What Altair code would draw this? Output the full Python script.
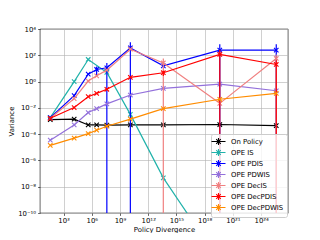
import altair as alt
import pandas as pd

# Policy divergence (x) values
x_vals = [39, 1.35e4, 4.2e5, 3.3e6, 4.0e7, 1.26e10, 4.0e13, 4.0e19, 4.0e25]

series_names = ["On Policy", "OPE IS", "OPE PDIS", "OPE PDWIS",
                "OPE DecIS", "OPE DecPDIS", "OPE DecPDWIS"]
colors = ["#000000", "#20b2aa", "#0000ff", "#9370db", "#f08080", "#ff0000", "#ff8c00"]

# Variance values (None = no point)
on_policy = [1.26e-3, 1.4e-3, 5.0e-4, 5.0e-4, 4.8e-4, 5.0e-4, 5.0e-4, 5.4e-4, 4.5e-4]
ope_is = [1.8e-3, 1.0, 48, None, 5.0, 3.2e-3, 4.7e-8, 2e-14, None]
ope_pdis = [1.8e-3, 8.5e-2, 3.7, 8.3, 11.2, 363, 15.8, 245, 250]
ope_pdwis = [3.5e-5, 5.0e-4, 4.4e-3, 8.7e-3, 2.0e-2, 9.5e-2, 0.30, 0.65, 0.20]
ope_decis = [1.6e-3, 5.0e-2, 1.1, 2.75, 7.4, 288, 26, 2.2e-2, 57]
ope_decpdis = [1.6e-3, 1.05e-2, 7.1e-2, 0.126, 0.26, 2.1, 4.7, 115, 20]
ope_decpdwis = [1.4e-5, 5.0e-5, 1.1e-4, 2.0e-4, 4.0e-4, 1.4e-3, 8.7e-3, 4.5e-2, 0.126]

# Error (standard error, linear units); 0 = no visible bar
err_on_policy = [0, 0.0003, 0, 0, 0, 0, 0, 0, 0]
err_is = [0, 0, 0, 0, 0, 0, 0, 0, 0]
err_pdis = [0, 0, 0, 5.7, 15, 637, 0, 445, 445]
err_pdwis = [0, 0, 0, 0, 0, 0, 0, 0, 0]
err_decis = [0, 0, 0, 0, 0, 0, 30, 0, 58]
err_decpdis = [0, 0, 0, 0, 0, 0, 2, 140, 22]
err_decpdwis = [0, 0, 0, 0, 0, 0, 0, 0, 0]

values = [on_policy, ope_is, ope_pdis, ope_pdwis, ope_decis, ope_decpdis, ope_decpdwis]
errors = [err_on_policy, err_is, err_pdis, err_pdwis, err_decis, err_decpdis, err_decpdwis]

x_ticks = [1e3, 1e6, 1e9, 1e12, 1e15, 1e18, 1e21, 1e24]
y_ticks = [1e-10, 1e-8, 1e-6, 1e-4, 1e-2, 1e0, 1e2, 1e4]

SUP = str.maketrans("0123456789-", "⁰¹²³⁴⁵⁶⁷⁸⁹⁻")


def label_expr(ticks):
    import math
    expr = "''"
    for t in reversed(ticks):
        e = int(round(math.log10(t)))
        lab = "10" + str(e).translate(SUP)
        expr = f"round(log(datum.value)/LN10) == {e} ? '{lab}' : ({expr})"
    return expr


rows = []
for name, vals, errs in zip(series_names, values, errors):
    for xv, yv, ev in zip(x_vals, vals, errs):
        if yv is None:
            continue
        lo = yv - ev
        if lo <= 0:
            lo = 1e-30
        rows.append({"x": xv, "y": yv, "lo": lo, "hi": yv + ev,
                     "err": ev, "series": name})
df = pd.DataFrame(rows)

xscale = alt.Scale(type="log", domain=[10 ** 0.5, 10 ** 26.85], nice=False)
yscale = alt.Scale(type="log", domain=[1e-10, 1e4], nice=False)

star = "M-2,0L2,0M0,-1L0,1M-0.65,-0.65L0.65,0.65M-0.65,0.65L0.65,-0.65"
xmark = "M-1,-1L1,1M-1,1L1,-1"

legend = alt.Legend(
    title=None, orient="none", legendX=171, legendY=105,
    symbolType=star, symbolSize=49, symbolStrokeWidth=1.1,
    symbolFillColor="transparent",
    labelFont="DejaVu Sans", labelFontSize=6.9, labelColor="black",
    labelOffset=8.1, rowPadding=-2.3, padding=3,
    strokeColor="#cccccc", cornerRadius=2,
    fillColor="rgba(255,255,255,0.8)",
)

color = alt.Color("series:N", scale=alt.Scale(domain=series_names, range=colors),
                  legend=legend)

xenc = alt.X("x:Q", scale=xscale, title="Policy Divergence",
             axis=alt.Axis(values=x_ticks, labelExpr=label_expr(x_ticks)))
yenc = alt.Y("y:Q", scale=yscale, title="Variance",
             axis=alt.Axis(values=y_ticks, labelExpr=label_expr(y_ticks)))

layers = []
for name in series_names:
    sub = df[df["series"] == name]
    line = alt.Chart(sub).mark_line(strokeWidth=1.2, clip=True).encode(
        x=xenc, y=yenc, color=color)
    layers.append(line)
    eb = sub[sub["err"] > 0]
    if len(eb):
        rule = alt.Chart(eb).mark_rule(strokeWidth=1.2, clip=True).encode(
            x=xenc, y=alt.Y("lo:Q", scale=yscale), y2="hi:Q", color=color)
        layers.append(rule)
    pts = alt.Chart(sub).mark_point(shape=xmark, size=20, filled=False,
                                    strokeWidth=1.1, opacity=1, clip=True).encode(
        x=xenc, y=yenc, color=color)
    layers.append(pts)

chart = alt.layer(*layers).properties(
    width=248, height=184,
    padding={"left": 32, "top": 21, "right": 24, "bottom": 20},
    autosize=alt.AutoSizeParams(type="none"),
).configure_view(
    stroke="#000000", strokeWidth=0.6
).configure_axis(
    labelFont="DejaVu Sans", labelFontSize=6.9, labelColor="black",
    titleFont="DejaVu Sans", titleFontSize=6.9, titleFontWeight="normal",
    titleColor="black", gridColor="#b0b0b0", gridWidth=0.6, domain=False,
    tickColor="black", tickSize=2.4, tickWidth=0.6, labelPadding=2,
    titlePadding=3,
)

chart.save("out.html", embed_options={"renderer": "svg", "actions": False})
